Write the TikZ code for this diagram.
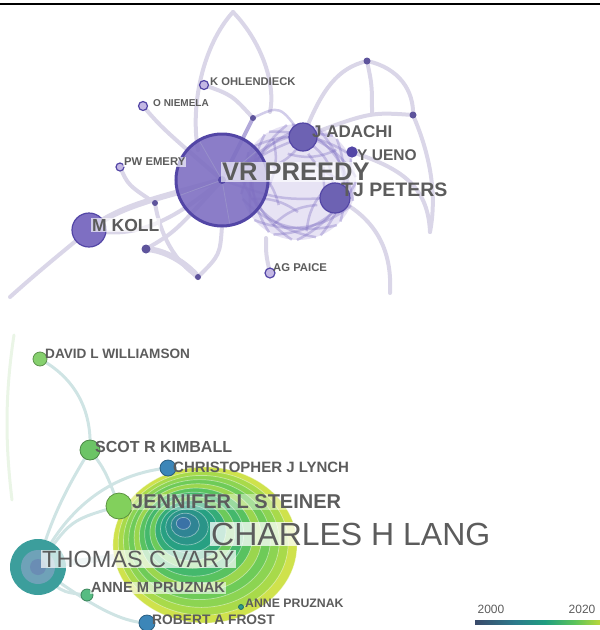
\documentclass[tikz,border=0pt]{standalone}
\usepackage{fontspec}
\setmainfont{Liberation Sans}
\usetikzlibrary{calc}
\definecolor{lg}{HTML}{5C5C5C}
\definecolor{arcg}{HTML}{DAD6E8}
\definecolor{pur}{HTML}{7E6FC2}
\definecolor{purd}{HTML}{5346A6}
\definecolor{purl}{HTML}{C4B8E4}
\definecolor{tl}{HTML}{CFE4E4}
\definecolor{cdavid}{HTML}{86D06E}
\definecolor{cscot}{HTML}{6CC466}
\definecolor{cblue}{HTML}{3C86B8}
\definecolor{csteiner}{HTML}{82D05C}
\definecolor{cannem}{HTML}{56BC82}
\definecolor{cannep}{HTML}{2A9A8A}
\definecolor{cvary}{HTML}{3C9E9C}
\definecolor{cvaryi}{HTML}{6FA2B8}
\definecolor{cvaryc}{HTML}{6A8DB4}
\definecolor{faint}{HTML}{EAF5E6}
\definecolor{lg0}{HTML}{3A4A6A}
\definecolor{lg1}{HTML}{2C7A8C}
\definecolor{lg2}{HTML}{1F9E80}
\definecolor{lg3}{HTML}{5CC45A}
\definecolor{lg4}{HTML}{B9D83A}
\definecolor{r1}{HTML}{CFE24C}
\definecolor{r2}{HTML}{A8DA4A}
\definecolor{r3}{HTML}{8CD452}
\definecolor{r4}{HTML}{6ECB58}
\definecolor{r5}{HTML}{9AD64E}
\definecolor{r6}{HTML}{58C260}
\definecolor{r7}{HTML}{44B86C}
\definecolor{r8}{HTML}{6CCA5A}
\definecolor{r9}{HTML}{34AC78}
\definecolor{r10}{HTML}{27A082}
\definecolor{r11}{HTML}{2A9488}
\definecolor{r12}{HTML}{2F8494}
\definecolor{r13}{HTML}{3A72A6}
\begin{document}
\begin{tikzpicture}[x=1pt,y=-1pt,
  lbl/.style={anchor=west,text=lg,inner sep=1pt},
  bgl/.style={fill=white,fill opacity=0.65,text opacity=1},
  pn/.style={circle,inner sep=0pt,fill=pur,draw=purd,line width=1.2pt},
  pdot/.style={circle,inner sep=0pt,minimum size=7pt,fill=purd!75!gray},
  garc/.style={draw=arcg,line width=4pt,line cap=round},
  parc/.style={draw=pur,draw opacity=0.35,line width=2.5pt},
  tarc/.style={draw=tl,line width=3pt,line cap=round},
  gn/.style={circle,inner sep=0pt,fill=#1,draw=#1!70!black,line width=0.8pt}
]
\useasboundingbox (0,0) rectangle (600,630);
\fill[black] (0,2.8) rectangle (600,5.4);

% ---------- top coordinates ----------
\coordinate (vr) at (222,180);
\coordinate (adachi) at (303,137);
\coordinate (ueno) at (352,152);
\coordinate (peters) at (335,198);
\coordinate (koll) at (89,230);
\coordinate (emery) at (120,167);
\coordinate (niemela) at (143,106);
\coordinate (ohlen) at (204,85);
\coordinate (paice) at (270,273);
\coordinate (d1) at (367,61);
\coordinate (d2) at (413,115);
\coordinate (d3) at (253,118);
\coordinate (d4) at (155,203);
\coordinate (d5) at (146,249);
\coordinate (d6) at (198,277);
\coordinate (tpk) at (233,12);
\coordinate (lf) at (198,150);
\coordinate (rf) at (270,112);
\coordinate (tri) at (372,113);
\coordinate (e0) at (10,297);
\coordinate (e1) at (430,232);
\coordinate (e2) at (390,293);
\coordinate (vrb) at (222,226);
\coordinate (clb) at (266,238);
\coordinate (cl) at (298,182);

% ---------- top gray arcs ----------
\draw[garc] (tpk) .. controls (203,45) and (190,105) .. (lf);
\draw[garc] (tpk) .. controls (262,42) and (276,85) .. (rf);
\draw[garc] (d1) .. controls (400,68) and (414,92) .. (d2);
\draw[garc] (d1) .. controls (372,85) .. (tri);
\draw[garc] (d2) .. controls (370,112) .. (adachi);
\draw[garc] (d1) .. controls (338,68) and (322,88) .. (adachi);
\draw[garc] (d2) .. controls (428,150) and (438,190) .. (e1);
\draw[garc] (ueno) .. controls (400,168) and (428,185) .. (e1);
\draw[garc] (peters) .. controls (380,220) and (392,255) .. (e2);
\draw[garc] (e0) .. controls (40,270) and (65,250) .. (koll);
\draw[garc,line width=6pt] (koll) .. controls (120,205) and (160,198) .. (vr);
\draw[garc] (koll) .. controls (130,238) and (165,228) .. (vr);
\draw[garc] (emery) .. controls (128,185) .. (d4);
\draw[garc] (d4) .. controls (160,235) and (175,262) .. (d6);
\draw[garc,line width=6pt] (d5) .. controls (165,250) and (185,262) .. (d6);
\draw[garc] (vrb) .. controls (220,255) .. (d6);
\draw[garc] (d5) .. controls (175,232) .. (vr);
\draw[garc] (niemela) .. controls (162,128) .. (vr);
\draw[garc] (ohlen) .. controls (232,95) .. (d3);
\draw[garc] (paice) .. controls (266,255) .. (clb);

% ---------- purple cloud ----------
\fill[purl,opacity=0.4] (cl) circle (58);
\foreach \a in {0,24,...,336}{
  \draw[parc] ($(cl)+(\a:58)$) to[bend left=30] ($(cl)+(\a+115:58)$);
}
\foreach \a in {10,50,...,330}{
  \draw[parc] ($(cl)+(\a:30)$) to[bend right=20] ($(cl)+(\a+70:50)$);
}
\draw[parc,draw opacity=0.6,line width=4pt] (d3) -- (vr);
\draw[parc] (d3) .. controls (280,105) .. (adachi);
\draw[parc] (vr) .. controls (270,150) .. (adachi);
\draw[parc] (vr) .. controls (280,200) .. (peters);
\draw[parc] (adachi) .. controls (330,160) .. (peters);

% ---------- top nodes ----------
\node[pn,minimum size=92pt,fill opacity=0.9,line width=3pt] (vrN) at (vr) {};
\draw[purd!60,line width=0.8pt] (vr) -- +(80:44) (vr) -- +(160:44) (vr) -- +(240:44) (vr) -- +(320:44);
\fill[purd] (vr) circle (4);
\node[pn,minimum size=28pt,fill=purd!85] (adachiN) at (adachi) {};
\node[pn,minimum size=10pt,fill=purd] (uenoN) at (ueno) {};
\node[pn,minimum size=30pt,fill=purd!85] (petersN) at (peters) {};
\node[pn,minimum size=34pt] (kollN) at (koll) {};
\node[pn,minimum size=8pt,fill=purl] (emeryN) at (emery) {};
\node[pn,minimum size=9pt,fill=purl] (niemelaN) at (niemela) {};
\node[pn,minimum size=9pt,fill=purl] (ohlenN) at (ohlen) {};
\node[pn,minimum size=10pt,fill=purl] (paiceN) at (paice) {};
\node[pdot] (d1N) at (d1) {};
\node[pdot] (d2N) at (d2) {};
\node[pdot,minimum size=6pt] (d3N) at (d3) {};
\node[pdot,minimum size=6pt] (d4N) at (d4) {};
\node[pdot,minimum size=9pt] (d5N) at (d5) {};
\node[pdot,minimum size=6pt] (d6N) at (d6) {};

% ---------- top labels ----------
\node[lbl,bgl,font=\bfseries\fontsize{25.5}{25.5}\selectfont] (vrL) at (221,172) {VR PREEDY};
\node[lbl,font=\bfseries\fontsize{17}{17}\selectfont] (adachiL) at (311,132) {J ADACHI};
\node[lbl,font=\bfseries\fontsize{15.5}{15.5}\selectfont] (uenoL) at (356,155) {Y UENO};
\node[lbl,font=\bfseries\fontsize{19.5}{19.5}\selectfont] (petersL) at (340,190) {TJ PETERS};
\node[lbl,bgl,font=\bfseries\fontsize{17.5}{17.5}\selectfont] (kollL) at (91,225) {M KOLL};
\node[lbl,bgl,font=\bfseries\fontsize{11.3}{11.3}\selectfont] (emeryL) at (123,162) {PW EMERY};
\node[lbl,font=\bfseries\fontsize{10}{10}\selectfont] (niemelaL) at (152,103) {O NIEMELA};
\node[lbl,font=\bfseries\fontsize{11.2}{11.2}\selectfont] (ohlenL) at (209,82) {K OHLENDIECK};
\node[lbl,font=\bfseries\fontsize{11.3}{11.3}\selectfont] (paiceL) at (272,268) {AG PAICE};

% ---------- bottom coordinates ----------
\coordinate (david) at (40,359);
\coordinate (scot) at (90,450);
\coordinate (lynch) at (168,468);
\coordinate (steiner) at (119,506);
\coordinate (lang) at (205,545);
\coordinate (vary) at (38,567);
\coordinate (annem) at (87,595);
\coordinate (annep) at (241,607);
\coordinate (frost) at (147,623);
\coordinate (f1) at (14,335);
\coordinate (f2) at (12,500);

% ---------- bottom arcs ----------
\draw[tarc,draw=faint] (f1) .. controls (4,400) and (6,450) .. (f2);
\draw[tarc] (david) .. controls (75,378) and (92,410) .. (scot);
\draw[tarc] (scot) .. controls (65,490) and (48,525) .. (vary);
\draw[tarc] (scot) .. controls (105,470) .. (steiner);
\draw[tarc] (lynch) .. controls (100,475) and (60,520) .. (vary);
\draw[tarc] (vary) .. controls (70,520) .. (steiner);
\draw[tarc] (vary) .. controls (90,605) and (120,622) .. (frost);
\draw[tarc] (vary) .. controls (60,592) .. (annem);
\draw[tarc,line width=6pt] (vary) -- (lang);

% ---------- lang rings ----------
\foreach \r/\c in {78/r1,72/r2,66/r3,60/r4,54/r5,48/r6,42/r7,36/r8,30/r9,24/r10,18/r11,12/r12,6/r13}{
  \pgfmathsetmacro{\sh}{(78-\r)*0.3}
  \fill[\c,draw=white,draw opacity=0.45,line width=0.7pt]
    ($(lang)+(-\sh,-\sh)$) ellipse ({1.18*\r} and {\r});
}
\node[circle,inner sep=0pt,minimum size=2pt] (langN) at (lang) {};

% ---------- bottom nodes ----------
\node[gn=cdavid,minimum size=14pt] (davidN) at (david) {};
\node[gn=cscot,minimum size=20pt] (scotN) at (scot) {};
\node[gn=cblue,minimum size=16pt] (lynchN) at (lynch) {};
\node[gn=csteiner,minimum size=26pt] (steinerN) at (steiner) {};
\node[circle,inner sep=0pt,minimum size=56pt,fill=cvary] (varyN) at (vary) {};
\fill[cvaryi] (vary) circle (17);
\fill[cvaryc] (vary) circle (8);
\node[gn=cannem,minimum size=12pt] (annemN) at (annem) {};
\node[gn=cannep,minimum size=5pt] (annepN) at (annep) {};
\node[gn=cblue,minimum size=16pt] (frostN) at (frost) {};

% ---------- bottom labels ----------
\node[lbl,font=\bfseries\fontsize{13.6}{13.6}\selectfont] (davidL) at (44,354) {DAVID L WILLIAMSON};
\node[lbl,font=\bfseries\fontsize{16}{16}\selectfont] (scotL) at (94,447) {SCOT R KIMBALL};
\node[lbl,font=\bfseries\fontsize{15}{15}\selectfont] (lynchL) at (172,467) {CHRISTOPHER J LYNCH};
\node[lbl,bgl,fill opacity=0.4,font=\bfseries\fontsize{20}{20}\selectfont] (steinerL) at (131,502) {JENNIFER L STEINER};
\node[lbl,bgl,fill opacity=0.75,font=\fontsize{32}{32}\selectfont] (langL) at (210,534) {CHARLES H LANG};
\node[lbl,bgl,fill opacity=0.7,font=\fontsize{23.5}{23.5}\selectfont] (varyL) at (41,559) {THOMAS C VARY};
\node[lbl,bgl,fill opacity=0.6,font=\bfseries\fontsize{14.7}{14.7}\selectfont] (annemL) at (90,588) {ANNE M PRUZNAK};
\node[lbl,font=\bfseries\fontsize{12.3}{12.3}\selectfont] (annepL) at (244,603) {ANNE PRUZNAK};
\node[lbl,font=\bfseries\fontsize{13.8}{13.8}\selectfont] (frostL) at (151,620) {ROBERT A FROST};

% ---------- legend ----------
\node[text=lg,font=\fontsize{12}{12}\selectfont,inner sep=0pt] (y0) at (491,609) {2000};
\node[text=lg,font=\fontsize{12}{12}\selectfont,inner sep=0pt] (y1) at (582,609) {2020};
\shade[left color=lg0,right color=lg1] (475,620) rectangle (515,624);
\shade[left color=lg1,right color=lg2] (515,620) rectangle (545,624);
\shade[left color=lg2,right color=lg3] (545,620) rectangle (575,624);
\shade[left color=lg3,right color=lg4] (575,620) rectangle (600,624);
\end{tikzpicture}
\end{document}
